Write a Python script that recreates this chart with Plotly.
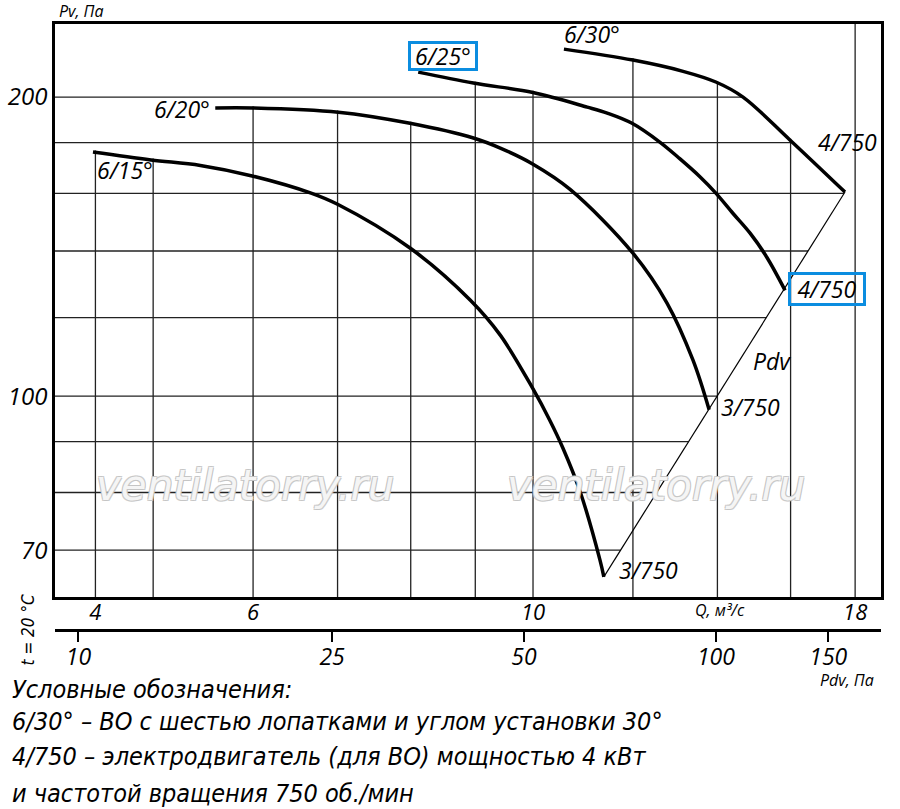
import numpy as np
import plotly.graph_objects as go

# fan curves (Q, m3/s ; Pv, Pa)
q_15 = [4.48, 4.98, 5.45, 5.99, 6.67, 7.0, 8.0, 8.92, 9.42, 10.0, 10.31, 10.56, 10.9, 11.3, 11.38]
pv_15 = [176.1, 172.9, 170.7, 166.6, 160.1, 156.0, 140.8, 124.9, 115.2, 101.7, 94.6, 88.7, 80.1, 68.4, 65.8]

q_20 = [5.6, 6.0, 7.01, 7.99, 8.97, 9.42, 10.0, 10.7, 12.0, 12.77, 13.39, 13.79]
pv_20 = [195.0, 195.0, 193.1, 188.2, 181.9, 177.7, 171.2, 161.5, 139.3, 124.1, 108.7, 96.9]

q_25 = [8.11, 8.97, 10.0, 11.04, 11.45, 11.98, 12.61, 13.07, 13.56, 13.96, 14.40, 14.86, 15.32, 15.84]
pv_25 = [211.9, 206.6, 202.1, 195.4, 192.7, 188.2, 180.1, 173.4, 166.3, 160.1, 152.8, 145.9, 138.0, 127.8]

q_30 = [10.58, 12.0, 13.15, 13.96, 14.67, 15.98, 17.67]
pv_30 = [223.5, 217.9, 212.3, 207.1, 200.0, 181.1, 160.5]

# dynamic pressure line (ends of the curves)
pdv_q = [11.38, 17.67]
pdv_pv = [65.8, 160.5]

# grid and ticks
grid_q = [4.5, 5, 6, 7, 8, 9, 10, 12, 14, 16, 18]
grid_pv = [70, 80, 90, 100, 120, 140, 160, 180, 200]
q_ticks = [4.5, 6, 10, 18]
q_ticktext = ['4', '6', '10', '18']
pv_ticks = [70, 100, 200]
pdv_ticks = [10, 25, 50, 100, 150]

q_range = [4.18, 18.87]
pv_range = [62.8, 236.9]
pdv_range = [9.19, 181.5]

curves = [(q_15, pv_15), (q_20, pv_20), (q_25, pv_25), (q_30, pv_30)]


def pv_on(q, qs, pvs):
    if q < qs[0] or q > qs[-1]:
        return None
    return 10 ** np.interp(np.log10(q), np.log10(qs), np.log10(pvs))


# gridlines are clipped by the curve envelope and the Pdv line
gx, gy = [], []
for q in grid_q:
    tops = [pv_on(q, qs, pvs) for qs, pvs in curves]
    tops = [t for t in tops if t is not None]
    top = max(tops) * 1.004 if tops else pv_range[1]
    gx += [q, q, None]
    gy += [pv_range[0], top, None]

bound_q = q_30 + [pdv_q[0]]
bound_pv = pv_30 + [pdv_pv[0]]
for pv in grid_pv:
    right = 10 ** np.interp(np.log10(pv), np.log10(bound_pv[::-1]), np.log10(bound_q[::-1]))
    gx += [q_range[0], right, None]
    gy += [pv, pv, None]

fig = go.Figure()
fig.add_trace(go.Scatter(x=gx, y=gy, mode='lines', line=dict(color='#222', width=1.3),
                         hoverinfo='skip', showlegend=False))
fig.add_trace(go.Scatter(x=pdv_q, y=pdv_pv, mode='lines', line=dict(color='black', width=1.2),
                         hoverinfo='skip', showlegend=False))
for qs, pvs in curves:
    fig.add_trace(go.Scatter(x=qs, y=pvs, mode='lines', line=dict(color='black', width=3.5, shape='spline'),
                             showlegend=False))
# dummy trace so the Pdv scale gets drawn
fig.add_trace(go.Scatter(x=[pdv_ticks[0]], y=[pv_range[0]], xaxis='x2', mode='markers',
                         marker=dict(opacity=0), hoverinfo='skip', showlegend=False))

LBL = 'Open Sans, DejaVu Sans, sans-serif'
NOTE = 'DejaVu Sans Condensed, DejaVu Sans, sans-serif'
BLUE = '#0b8de0'


def lbl(text, q, pv, xa, ya, dx, dy, size=23, box=None):
    extra = {}
    if box:
        extra = dict(bordercolor=BLUE, borderwidth=3, borderpad=1, width=box[0], height=box[1])
    fig.add_annotation(x=np.log10(q), y=np.log10(pv), xref='x', yref='y', text=text, showarrow=False,
                       xanchor=xa, yanchor=ya, xshift=dx, yshift=dy,
                       font=dict(family=LBL, size=size, color='black', style='italic'), **extra)


lbl('6/15°', q_15[0], pv_15[0], 'left', 'top', 2, 0)
lbl('6/20°', q_20[0], pv_20[0], 'right', 'middle', -3, -1)
lbl('6/25°', q_25[0], pv_25[0], 'left', 'bottom', -10, 1, box=(62, 22))
lbl('6/30°', q_30[0], pv_30[0], 'left', 'bottom', -2, -3)
lbl('4/750', q_30[-1], pv_30[-1], 'center', 'bottom', 3, 32)
lbl('4/750', q_25[-1], pv_25[-1], 'left', 'middle', 3, 1, box=(70, 26))
lbl('3/750', q_20[-1], pv_20[-1], 'left', 'middle', 10, 3)
lbl('3/750', q_15[-1], pv_15[-1], 'left', 'middle', 13, 7)
mid_q = np.sqrt(pdv_q[0] * pdv_q[1])
mid_pv = np.sqrt(pdv_pv[0] * pdv_pv[1])
lbl('Pdv', mid_q, mid_pv, 'center', 'middle', 48, 23)


def note(text, x, y, size, xa='left', ya='middle', family=NOTE, angle=0):
    fig.add_annotation(x=x, y=y, xref='paper', yref='paper', text=text, showarrow=False,
                       xanchor=xa, yanchor=ya, textangle=angle,
                       font=dict(family=family, size=size, color='black', style='italic'))


note('Pv, Па', 0.002, 1.019, 16, family=LBL)
note('Q, м³/с', 0.805, 0.133, 16, xa='center', family=LBL)
note('Pdv, Па', 0.994, 0.03, 16, xa='right', family=LBL)
note('t = 20 °C', -0.033, 0.104, 17, xa='center', angle=-90)
note('Условные обозначения:', -0.0545, 0.0148, 25)
note('6/30° – ВО с шестью лопатками и углом установки 30°', -0.0545, -0.0325, 25)
note('4/750 – электродвигатель (для ВО) мощностью 4 кВт', -0.0545, -0.0843, 25)
note('и частотой вращения 750 об./мин', -0.0545, -0.1376, 25)

# watermark
for wx in [0.23, 0.727]:
    fig.add_annotation(x=wx, y=0.317, xref='paper', yref='paper', text='ventilatorry.ru', showarrow=False,
                       xanchor='center', yanchor='middle',
                       font=dict(family='DejaVu Sans', size=42, color='rgba(255,255,255,0.85)', style='italic',
                                 shadow='1px 1px 0 #c4c4c4, -1px -1px 0 #c4c4c4, 1px -1px 0 #c4c4c4, -1px 1px 0 #c4c4c4'))

tickfont = dict(family=LBL, size=23, color='black', style='italic')
fig.update_layout(
    width=900, height=809,
    margin=dict(l=55, r=19, t=24, b=109),
    paper_bgcolor='white', plot_bgcolor='white',
    showlegend=False,
    xaxis=dict(type='log', range=list(np.log10(q_range)), tickvals=q_ticks, ticktext=q_ticktext,
               ticks='', showgrid=False, zeroline=False, showline=True, mirror=True, automargin=False,
               ticklabelstandoff=-6,
               linewidth=2.5, linecolor='black', tickfont=dict(tickfont, size=22)),
    yaxis=dict(type='log', range=list(np.log10(pv_range)), tickvals=pv_ticks, ticktext=[str(v) for v in pv_ticks],
               domain=[0.1524, 1], ticks='', showgrid=False, zeroline=False, showline=True, mirror=True,
               automargin=False, linewidth=2.5, linecolor='black', tickfont=dict(tickfont, size=24)),
    xaxis2=dict(type='log', range=list(np.log10(pdv_range)), overlaying='x', anchor='free', position=0.1036,
                side='bottom', tickvals=pdv_ticks, ticktext=[str(v) for v in pdv_ticks],
                ticks='outside', ticklen=10, tickwidth=1.5, tickcolor='black', automargin=False,
                ticklabelstandoff=-5,
                showgrid=False, zeroline=False, showline=True, linewidth=3, linecolor='black',
                tickfont=tickfont),
)

# drop the default page margin so the figure sits at the window's corner
fig.write_html("out.html", config={'displayModeBar': False},
               post_script="document.body.style.margin='0';document.body.style.overflow='hidden';")
